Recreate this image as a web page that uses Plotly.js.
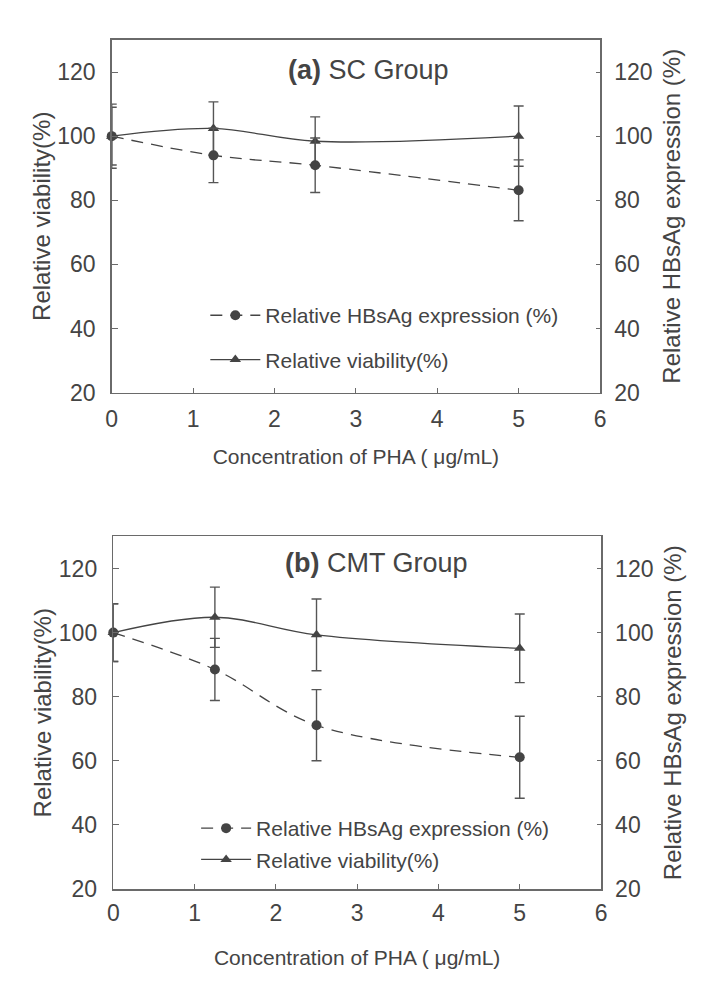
<!DOCTYPE html>
<html>
<head>
<meta charset="utf-8">
<script src="https://cdn.plot.ly/plotly-3.0.1.min.js"></script>
<style>html,body{margin:0;padding:0;background:#fff;}#chart{width:708px;height:992px;}</style>
</head>
<body>
<div id="chart"></div>
<script>
// ---- data ----
const concentration = [0, 1.25, 2.5, 5];

const scViability = [100, 102.4, 98.4, 100.0];
const scViabilityErr = [9, 8.3, 7.6, 9.4];
const scExpression = [100, 94.0, 90.9, 83.1];
const scExpressionErr = [10, 8.5, 8.5, 9.5];

const cmtViability = [100, 104.8, 99.3, 95.1];
const cmtViabilityErr = [9, 9.4, 11.2, 10.7];
const cmtExpression = [100, 88.5, 71.1, 61.1];
const cmtExpressionErr = [9, 9.7, 11.1, 12.8];

const xTicks = [0, 1, 2, 3, 4, 5, 6];
const yTicks = [20, 40, 60, 80, 100, 120];

const panelTitles = ["<b>(a)</b> SC Group", "<b>(b)</b> CMT Group"];
const xTitle = "Concentration of PHA ( \u03bcg/mL)";
const yLeftTitle = "Relative viability(%)";
const yRightTitle = "Relative HBsAg expression (%)";
const nameExpr = "Relative HBsAg expression (%)";
const nameViab = "Relative viability(%)";

// ---- style ----
const INK = "#444444";
const FRAME = "#6a6a6a";
const FONT = "Liberation Sans, Arial, sans-serif";

function exprTrace(y, err, xa, ya, leg, grp) {
  return {
    x: concentration, y: y, xaxis: xa, yaxis: ya, legend: leg, legendgroup: grp + "e",
    name: nameExpr, type: "scatter", mode: "lines+markers", cliponaxis: false,
    line: {color: INK, width: 1.3, dash: "12px,8px", shape: "spline"},
    marker: {symbol: "circle", size: 10, color: INK},
    error_y: {type: "data", array: err, visible: true, color: "#555", thickness: 1.4, width: 5}
  };
}
function viabTrace(y, err, xa, ya, leg, grp) {
  return {
    x: concentration, y: y, xaxis: xa, yaxis: ya, legend: leg, legendgroup: grp + "v",
    name: nameViab, type: "scatter", mode: "lines+markers", cliponaxis: false,
    line: {color: INK, width: 1.3, shape: "spline"},
    marker: {symbol: "triangle-up", size: 10, color: INK},
    error_y: {type: "data", array: err, visible: true, color: "#555", thickness: 1.4, width: 5}
  };
}

const data = [
  exprTrace(scExpression, scExpressionErr, "x", "y2", "legend", "a"),
  viabTrace(scViability, scViabilityErr, "x", "y", "legend", "a"),
  exprTrace(cmtExpression, cmtExpressionErr, "x2", "y4", "legend2", "b"),
  viabTrace(cmtViability, cmtViabilityErr, "x2", "y3", "legend2", "b")
];

function xAxis(domain, anchor, standoff, titleStandoff) {
  return {
    domain: domain, anchor: anchor, range: [0, 6], tickvals: xTicks,
    ticks: "inside", ticklen: 5, tickcolor: FRAME, tickwidth: 1,
    showline: true, linecolor: FRAME, linewidth: 1.5, mirror: true,
    showgrid: false, zeroline: false, ticklabelstandoff: standoff,
    tickfont: {size: 23, color: INK, family: FONT},
    title: {text: xTitle, font: {size: 21, color: INK, family: FONT}, standoff: titleStandoff}
  };
}
function yLeft(domain, anchor) {
  return {
    domain: domain, anchor: anchor, range: [20, 130], tickvals: yTicks,
    ticks: "inside", ticklen: 6, tickcolor: FRAME, tickwidth: 1,
    showline: true, linecolor: FRAME, linewidth: 1.5,
    showgrid: false, zeroline: false, ticklabelstandoff: 10,
    tickfont: {size: 23, color: INK, family: FONT},
    title: {text: yLeftTitle, font: {size: 24, color: INK, family: FONT}, standoff: 0}
  };
}
function yRight(overlay, anchor) {
  return {
    overlaying: overlay, anchor: anchor, side: "right", range: [20, 130], tickvals: yTicks,
    ticks: "inside", ticklen: 4, tickcolor: FRAME, tickwidth: 1,
    showline: true, linecolor: FRAME, linewidth: 1.5,
    showgrid: false, zeroline: false, ticklabelstandoff: 8,
    tickfont: {size: 23, color: INK, family: FONT},
    title: {text: yRightTitle, font: {size: 24, color: INK, family: FONT}, standoff: 11}
  };
}

const legendBase = {
  bgcolor: "rgba(0,0,0,0)", borderwidth: 0,
  font: {size: 21, color: INK, family: FONT},
  itemwidth: 50, xanchor: "left", yanchor: "top", traceorder: "grouped"
};

const layout = {
  width: 708, height: 992,
  margin: {l: 0, r: 0, t: 0, b: 0},
  paper_bgcolor: "#ffffff", plot_bgcolor: "#ffffff",
  font: {family: FONT, color: INK},
  showlegend: true,
  xaxis: xAxis([0.1578, 0.8475], "y", 5, 18),
  yaxis: yLeft([0.6043, 0.9597], "x"),
  yaxis2: yRight("y", "x"),
  xaxis2: xAxis([0.1600, 0.8489], "y3", 3, 25),
  yaxis3: yLeft([0.1038, 0.4592], "x2"),
  yaxis4: yRight("y3", "x2"),
  legend: Object.assign({}, legendBase, {x: 0.29, y: 0.7025, tracegroupgap: 14}),
  legend2: Object.assign({}, legendBase, {x: 0.277, y: 0.1855, tracegroupgap: 1}),
  annotations: [
    {text: panelTitles[0], xref: "x domain", yref: "y domain", x: 0.525, y: 0.915,
     xanchor: "center", yanchor: "middle",
     showarrow: false, font: {size: 27, color: INK, family: FONT}},
    {text: panelTitles[1], xref: "x2 domain", yref: "y3 domain", x: 0.54, y: 0.924,
     xanchor: "center", yanchor: "middle",
     showarrow: false, font: {size: 27, color: INK, family: FONT}}
  ]
};

Plotly.newPlot("chart", data, layout, {displayModeBar: false, staticPlot: true});
</script>
</body>
</html>
